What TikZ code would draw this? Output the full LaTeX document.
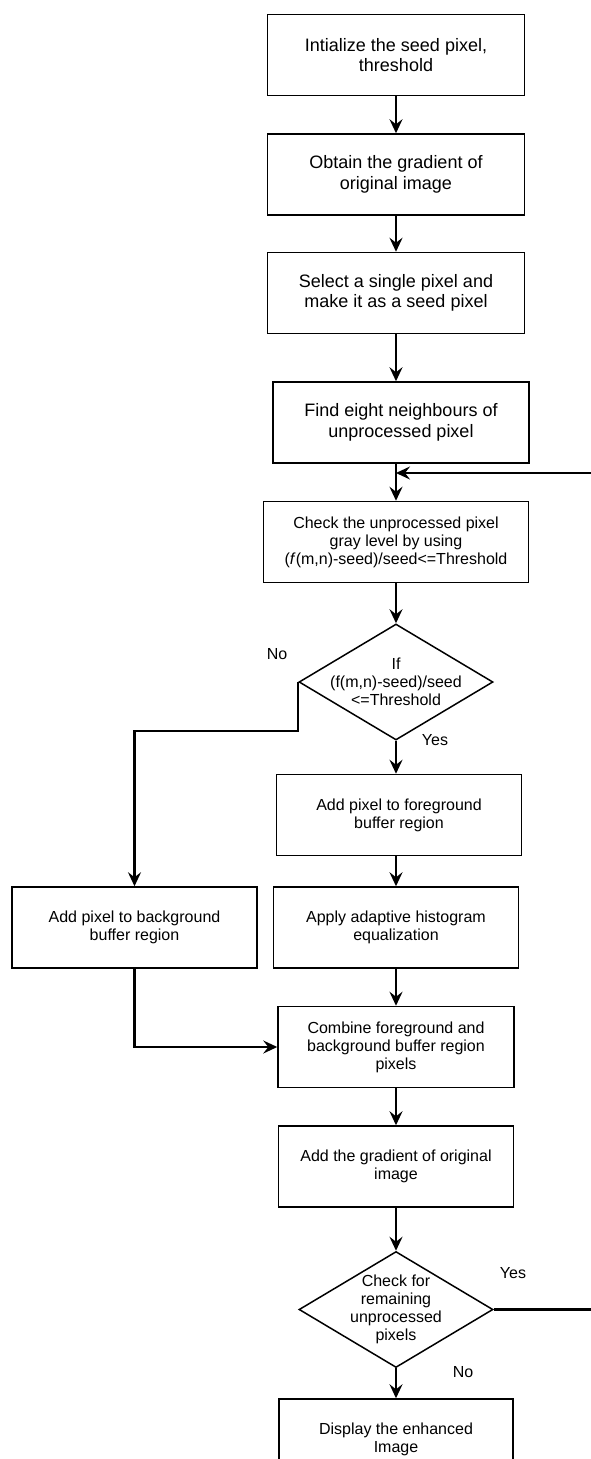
\documentclass[tikz,border=0pt]{standalone}
\usepackage{fontspec}
\setmainfont{Liberation Sans}
\usetikzlibrary{arrows.meta,positioning,shapes.geometric}

\begin{document}
\begin{tikzpicture}[
  x=1pt,y=-1pt,
  >={Stealth[length=14pt,width=13pt,inset=5pt]},
  box/.style={draw,line width=1.5pt,align=center,inner sep=4pt},
  bigbox/.style={box,minimum width=257pt,minimum height=81pt,font=\fontsize{18}{20.5}\selectfont},
  smallbox/.style={box,minimum width=245pt,minimum height=81pt,font=\fontsize{16}{18}\selectfont},
  decision/.style={draw,line width=1.5pt,diamond,aspect=1.67,inner sep=-8pt,minimum width=194pt,minimum height=116pt,align=center,font=\fontsize{16}{18}\selectfont},
  flow/.style={->,line width=2.1pt},
  tag/.style={font=\fontsize{16}{18}\selectfont}
]
\useasboundingbox (0,0) rectangle (590,1459);
\node[bigbox] (init) at (396,55) {Intialize the seed pixel,\\threshold};
\node[bigbox,below=37pt of init] (grad) {Obtain the gradient of\\original image};
\node[bigbox,below=36pt of grad] (select) {Select a single pixel and\\make it as a seed pixel};
\node[bigbox,below=47pt of select,xshift=5pt,minimum width=256pt] (neigh) {Find eight neighbours of\\unprocessed pixel};
\node[smallbox,below=37pt of neigh,xshift=-5pt,minimum width=265pt] (check) {Check the unprocessed pixel\\gray level by using\\(\textit{f}(m,n)-seed)/seed<=Threshold};
\node[decision,below=40pt of check] (cond) {If\\(f(m,n)-seed)/seed\\<=Threshold};
\node[smallbox,below=33pt of cond,xshift=3pt] (fore) {Add pixel to foreground\\buffer region};
\node[smallbox,below=30pt of fore,xshift=-3pt] (equal) {Apply adaptive histogram\\equalization};
\node[smallbox,left=15pt of equal] (back) {Add pixel to background\\buffer region};
\node[smallbox,below=37pt of equal,minimum width=236pt] (merge) {Combine foreground and\\background buffer region\\pixels};
\node[smallbox,below=37pt of merge,minimum width=235pt] (addgrad) {Add the gradient of original\\image};
\node[decision,below=43pt of addgrad] (remain) {Check for\\remaining\\unprocessed\\pixels};
\node[smallbox,below=30pt of remain,minimum width=234pt] (show) {Display the enhanced\\Image};
% branch labels
\node[tag] (no1) at (277,654) {No};
\node[tag] (yes1) at (435,740) {Yes};
\node[tag] (yes2) at (513,1273) {Yes};
\node[tag] (no2) at (463,1372) {No};
\coordinate (loop) at (600,473);
\draw[flow] (init) -- (grad);
\draw[flow] (grad) -- (select);
\draw[flow] (select.south) -- (select.south |- neigh.north);
\draw[flow] (check.north |- neigh.south) -- (check.north);
\draw[flow] (check) -- (cond);
\draw[flow] (cond.south) -- (cond.south |- fore.north);
\draw[flow] (cond.west) -- ++(0,49) -| (back.north);
\draw[flow] (fore.south -| equal.north) -- (equal.north);
\draw[flow] (equal) -- (merge);
\draw[flow] (back.south) |- (merge.west);
\draw[flow] (merge) -- (addgrad);
\draw[flow] (addgrad) -- (remain);
\draw[flow] (remain) -- (show);
\draw[flow] (remain.east) -| (loop) -- (loop -| check.north);
\end{tikzpicture}
\end{document}
